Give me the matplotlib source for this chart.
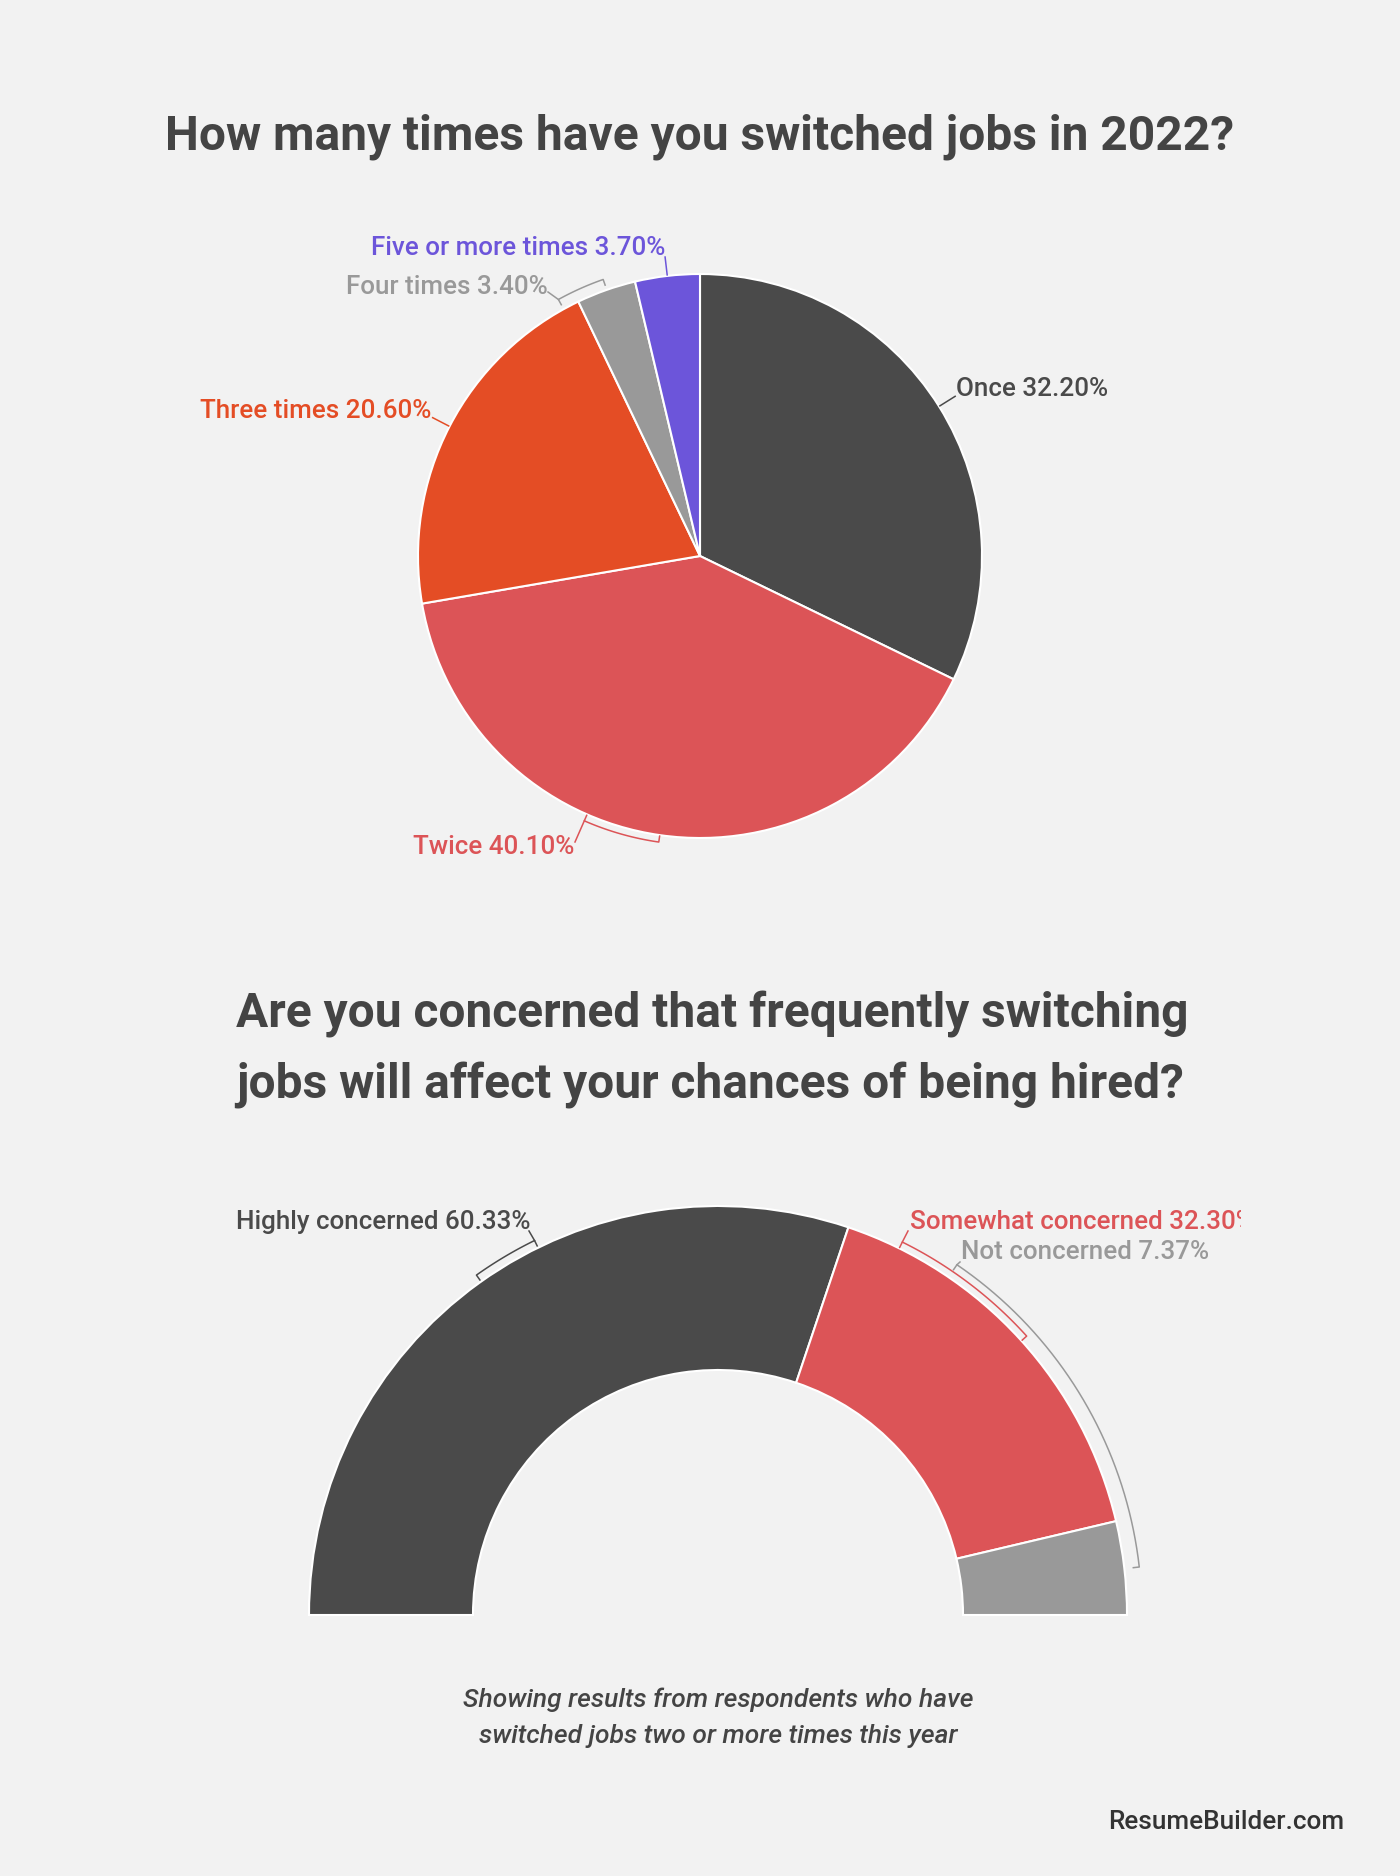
import numpy as np
import matplotlib.pyplot as plt
from matplotlib.transforms import Bbox

plt.rcParams['font.family'] = ['Roboto', 'DejaVu Sans']

W, H = 1400, 1876
BG = '#f2f2f2'
DARK = '#4a4a4a'
LFS = 18.7  # label font size

# data
jobs_labels = ['Once', 'Twice', 'Three times', 'Four times', 'Five or more times']
jobs_values = [32.20, 40.10, 20.60, 3.40, 3.70]
jobs_colors = ['#4a4a4a', '#dc5457', '#e44d25', '#999999', '#6c55da']

concern_labels = ['Highly concerned', 'Somewhat concerned', 'Not concerned']
concern_values = [60.33, 32.30, 7.37]
concern_colors = ['#4a4a4a', '#dc5457', '#999999']

fig = plt.figure(figsize=(W / 100, H / 100), dpi=100, facecolor=BG)
ax = fig.add_axes([0, 0, 1, 1])
ax.set_facecolor(BG)


def Y(y):
    return H - y


def arcpts(cx, cy, rad, a1, a2, n=40):
    t = np.radians(np.linspace(a1, a2, n))
    return cx + rad * np.cos(t), Y(cy) + rad * np.sin(t)


def bracket(cx, cy, rad, a1, a2, color, lead, tick=6):
    xs, ys = arcpts(cx, cy, rad, a1, a2)
    r1, r2 = np.radians(a1), np.radians(a2)
    px = [cx + (rad - tick) * np.cos(r1)] + list(xs) + [cx + (rad - tick) * np.cos(r2)]
    py = [Y(cy) + (rad - tick) * np.sin(r1)] + list(ys) + [Y(cy) + (rad - tick) * np.sin(r2)]
    ax.plot(px, py, color=color, lw=1.1)
    ax.plot([lead[0], xs[0]], [Y(lead[1]), ys[0]], color=color, lw=1.1)


# ---- top pie
pcx, pcy, pr = 700, 556, 282
wedges, _ = ax.pie(jobs_values, colors=jobs_colors, startangle=90, counterclock=False,
                   center=(pcx, Y(pcy)), radius=pr,
                   wedgeprops=dict(edgecolor='white', linewidth=1.5))

ax.text(700, Y(137), 'How many times have you switched jobs in 2022?', ha='center', va='center',
        fontsize=34.5, fontweight='bold', color='#444444')

lab = [f'{l} {v:.2f}%' for l, v in zip(jobs_labels, jobs_values)]

# radial leaders: Once, Three times, Five or more times
for i, ha, dx, yoff in [(0, 'left', 1, 7), (2, 'right', -1, 7), (4, 'right', 0, 9)]:
    w = wedges[i]
    a = np.radians((w.theta1 + w.theta2) / 2)
    x0, y0 = pcx + (pr + 1) * np.cos(a), Y(pcy) + (pr + 1) * np.sin(a)
    x1, y1 = pcx + (pr + 19) * np.cos(a), Y(pcy) + (pr + 19) * np.sin(a)
    ax.plot([x0, x1], [y0, y1], color=jobs_colors[i], lw=1.1)
    ax.text(x1 + dx, y1 + yoff, lab[i], ha=ha, va='center', fontsize=LFS,
            fontweight='medium', color=jobs_colors[i])

# bracket leaders: Twice, Four times
bracket(pcx, pcy, pr + 7, -113.6, -98.2, jobs_colors[1], (575, 842))
ax.text(574, Y(847), lab[1], ha='right', va='center', fontsize=LFS, fontweight='medium',
        color=jobs_colors[1])
bracket(pcx, pcy, pr + 11, 118.9, 109.3, jobs_colors[3], (548, 292))
ax.text(548, Y(287), lab[3], ha='right', va='center', fontsize=LFS, fontweight='medium',
        color=jobs_colors[3])

# ---- half donut
dcx, dcy, dR, dw = 718, 1615, 409, 164
vals = concern_values + [sum(concern_values)]
dw_wedges, _ = ax.pie(vals, colors=concern_colors + ['none'], startangle=180, counterclock=False,
                      center=(dcx, Y(dcy)), radius=dR,
                      wedgeprops=dict(width=dw, edgecolor='white', linewidth=1.5))
dw_wedges[-1].set_visible(False)

ax.text(236, Y(1050), 'Are you concerned that frequently switching\njobs will affect your chances of being hired?',
        ha='left', va='center', fontsize=34.5, fontweight='bold', color='#444444', linespacing=1.66)

clab = [f'{l} {v:.2f}%' for l, v in zip(concern_labels, concern_values)]
bracket(dcx, dcy, dR + 8, 116.1, 125.4, concern_colors[0], (529, 1231))
ax.text(236, Y(1222), clab[0], ha='left', va='center', fontsize=LFS, fontweight='medium',
        color=concern_colors[0])

bracket(dcx, dcy, dR + 7, 63.7, 42.1, concern_colors[1], (908, 1231))
t = ax.text(910, Y(1222), clab[1], ha='left', va='center', fontsize=LFS, fontweight='medium',
            color=concern_colors[1], clip_on=True)
t.set_clip_box(Bbox([[0, 0], [1241, H]]))

bracket(dcx, dcy, dR + 15, 55.7, 6.5, concern_colors[2], (960, 1262))
ax.text(961, Y(1252), clab[2], ha='left', va='center', fontsize=LFS, fontweight='medium',
        color=concern_colors[2])

ax.text(718, Y(1718), 'Showing results from respondents who have\nswitched jobs two or more times this year',
        ha='center', va='center', fontsize=19, fontstyle='italic', fontweight='medium',
        color='#444444', linespacing=1.62)
ax.text(1344, Y(1822), 'ResumeBuilder.com', ha='right', va='center', fontsize=18.8,
        fontweight='medium', color='#333333')

ax.set_xlim(0, W)
ax.set_ylim(0, H)
ax.set_aspect('auto')
ax.axis('off')

fig.savefig('out.png', dpi=100, facecolor=BG)
